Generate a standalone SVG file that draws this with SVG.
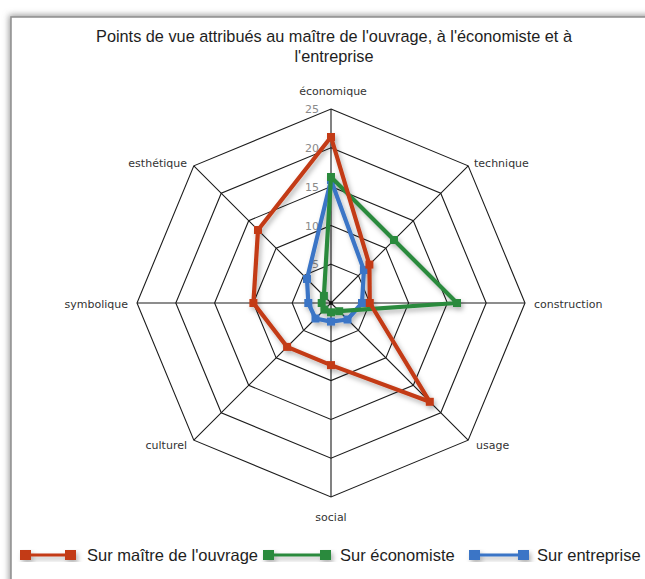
<svg xmlns="http://www.w3.org/2000/svg" width="645" height="579" viewBox="0 0 645 579">
<style>
.title{font-family:"Liberation Sans",Arial,sans-serif;font-size:16.3px;fill:#1e1e1e;text-anchor:middle}
.ax{font-family:"DejaVu Sans",sans-serif;font-size:11px;fill:#333333}
.sc{font-family:"DejaVu Sans",sans-serif;font-size:11px;fill:#8a8a8a;text-anchor:end}
.leg{font-family:"Liberation Sans",Arial,sans-serif;font-size:16.5px;fill:#1e1e1e}
.grid{fill:none;stroke:#1c1c1c;stroke-width:1.1}
.s{fill:none;stroke-width:4.2;stroke-linejoin:round}
.red{stroke:#c33b17}
.green{stroke:#2b8a3e}
.blue{stroke:#3b75c6}
</style>
<defs>
<filter id="fs" x="-10%" y="-10%" width="130%" height="130%">
<feDropShadow dx="2" dy="3" stdDeviation="2.5" flood-color="#000" flood-opacity="0.3"/>
</filter>
<filter id="frameShadow" x="-5%" y="-5%" width="110%" height="110%">
<feGaussianBlur stdDeviation="3"/>
</filter>
<marker id="mr" markerUnits="userSpaceOnUse" markerWidth="10" markerHeight="10" refX="5" refY="5" viewBox="0 0 10 10"><rect x="1" y="1" width="8" height="8" fill="#c33b17"/></marker>
<marker id="mg" markerUnits="userSpaceOnUse" markerWidth="10" markerHeight="10" refX="5" refY="5" viewBox="0 0 10 10"><rect x="1" y="1" width="8" height="8" fill="#2b8a3e"/></marker>
<marker id="mb" markerUnits="userSpaceOnUse" markerWidth="10" markerHeight="10" refX="5" refY="5" viewBox="0 0 10 10"><rect x="1" y="1" width="8" height="8" fill="#3b75c6"/></marker>
</defs>
<rect width="645" height="579" fill="#ffffff"/>
<g id="frame">
<rect x="9" y="15" width="700" height="700" fill="#9a9a9a" filter="url(#frameShadow)"/>
<rect x="11" y="17" width="700" height="700" fill="#ffffff" stroke="#8f8f8f" stroke-width="1.5"/>
</g>
<g id="title">
<text class="title" x="334" y="41.5">Points de vue attribués au maître de l'ouvrage, à l'économiste et à</text>
<text class="title" x="334" y="61.5">l'entreprise</text>
</g>
<g id="grid">
<polygon class="grid" points="331,264.2 358.44,275.56 369.8,303 358.44,330.44 331,341.8 303.56,330.44 292.2,303 303.56,275.56"/>
<polygon class="grid" points="331,225.4 385.87,248.13 408.6,303 385.87,357.87 331,380.6 276.13,357.87 253.4,303 276.13,248.13"/>
<polygon class="grid" points="331,186.6 413.31,220.69 447.4,303 413.31,385.31 331,419.4 248.69,385.31 214.6,303 248.69,220.69"/>
<polygon class="grid" points="331,147.8 440.74,193.26 486.2,303 440.74,412.74 331,458.2 221.26,412.74 175.8,303 221.26,193.26"/>
<polygon class="grid" points="331,109 468.18,165.82 525,303 468.18,440.18 331,497 193.82,440.18 137,303 193.82,165.82"/>
<path class="grid" d="M331,303V109M331,303L468.18,165.82M331,303H525M331,303L468.18,440.18M331,303V497M331,303L193.82,440.18M331,303H137M331,303L193.82,165.82"/>
<circle cx="331" cy="303" r="1.8" fill="#111"/>
</g>
<g id="scale">
<text class="sc" x="319" y="113">25</text>
<text class="sc" x="319" y="152">20</text>
<text class="sc" x="319" y="191">15</text>
<text class="sc" x="319" y="229.5">10</text>
<text class="sc" x="319" y="268.3">5</text>
</g>
<g id="axis-labels">
<text class="ax" x="333" y="95" text-anchor="middle">économique</text>
<text class="ax" x="474" y="167">technique</text>
<text class="ax" x="534" y="308">construction</text>
<text class="ax" x="476" y="449">usage</text>
<text class="ax" x="331" y="521" text-anchor="middle">social</text>
<text class="ax" x="187" y="449" text-anchor="end">culturel</text>
<text class="ax" x="128" y="308" text-anchor="end">symbolique</text>
<text class="ax" x="187" y="167" text-anchor="end">esthétique</text>
</g>
<g id="series" filter="url(#fs)">
<polygon id="s-entreprise" class="s blue" marker-start="url(#mb)" marker-mid="url(#mb)" points="331,180 363.9,270.1 362,303 347.5,319.5 331,321.6 315.5,318.5 308.3,303 307,279"/>
<polygon id="s-economiste" class="s green" marker-start="url(#mg)" marker-mid="url(#mg)" points="331,177 394,240 457,303 339.2,311.2 331,312.3 324.4,309.6 321.7,303 323.9,295.9"/>
<polygon id="s-maitre" class="s red" marker-start="url(#mr)" marker-mid="url(#mr)" points="331,137 369.4,264.6 369.8,303 429.8,401.8 331,365.1 287.1,346.9 253.4,303 258,230"/>
</g>
<g id="legend">
<g id="leg-red" filter="url(#fs)">
<line x1="25" y1="555" x2="70" y2="555" stroke="#c33b17" stroke-width="3"/>
<rect x="20" y="550" width="11" height="10" fill="#c33b17"/>
<rect x="65" y="550" width="11" height="10" fill="#c33b17"/>
</g>
<text class="leg" x="87" y="561">Sur maître de l'ouvrage</text>
<g id="leg-green" filter="url(#fs)">
<line x1="268" y1="555" x2="326" y2="555" stroke="#2b8a3e" stroke-width="3"/>
<rect x="263" y="550" width="11" height="10" fill="#2b8a3e"/>
<rect x="320" y="550" width="11" height="10" fill="#2b8a3e"/>
</g>
<text class="leg" x="340" y="561">Sur économiste</text>
<g id="leg-blue" filter="url(#fs)">
<line x1="474" y1="555" x2="524" y2="555" stroke="#3b75c6" stroke-width="3"/>
<rect x="469" y="550" width="11" height="10" fill="#3b75c6"/>
<rect x="518" y="550" width="11" height="10" fill="#3b75c6"/>
</g>
<text class="leg" x="537" y="561">Sur entreprise</text>
</g>
</svg>
